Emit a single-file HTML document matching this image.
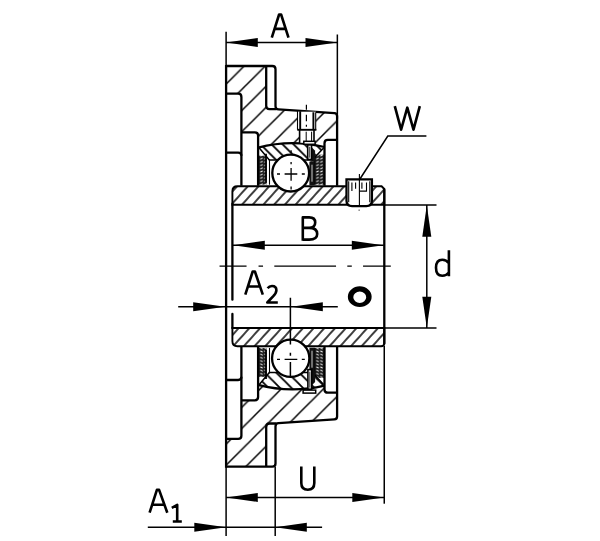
<!DOCTYPE html>
<html><head><meta charset="utf-8">
<style>
html,body{margin:0;padding:0;background:#fff;width:600px;height:541px;overflow:hidden;}
svg{display:block;}
</style></head>
<body>
<svg width="600" height="541" viewBox="0 0 600 541">
<defs>
  <!-- housing hatch "/" : lines x+y = x0 + k*w -->
  <pattern id="hU" patternUnits="userSpaceOnUse" x="14.3" y="0" width="21.1" height="21.1">
    <path d="M0,21.1 L21.1,0 M-10.55,10.55 L10.55,-10.55 M10.55,31.65 L31.65,10.55" stroke="#000" stroke-width="1.5"/>
  </pattern>
  <pattern id="hL" patternUnits="userSpaceOnUse" x="15.6" y="0" width="21.1" height="21.1">
    <path d="M0,21.1 L21.1,0 M-10.55,10.55 L10.55,-10.55 M10.55,31.65 L31.65,10.55" stroke="#000" stroke-width="1.5"/>
  </pattern>
  <!-- inner ring hatch, ~47deg -->
  <pattern id="hR" patternUnits="userSpaceOnUse" x="0" y="6.02" width="7.96" height="7.96" patternTransform="rotate(-48)">
    <path d="M-1,0 H10" stroke="#000" stroke-width="1.5"/>
    <path d="M-1,7.96 H10" stroke="#000" stroke-width="1.5"/>
  </pattern>
  <pattern id="hR2" patternUnits="userSpaceOnUse" x="0" y="6.58" width="7.96" height="7.96" patternTransform="rotate(-48)">
    <path d="M-1,0 H10" stroke="#000" stroke-width="1.5"/>
    <path d="M-1,7.96 H10" stroke="#000" stroke-width="1.5"/>
  </pattern>
  <!-- outer ring "\" : x-y = x0 + k*w -->
  <pattern id="hO" patternUnits="userSpaceOnUse" x="7.15" y="0" width="11" height="11">
    <path d="M0,0 L11,11 M-5.5,5.5 L5.5,16.5 M5.5,-5.5 L16.5,5.5" stroke="#000" stroke-width="1.8"/>
  </pattern>
  <pattern id="hO2" patternUnits="userSpaceOnUse" x="8" y="0" width="11.5" height="11.5">
    <path d="M0,0 L11.5,11.5 M-5.75,5.75 L5.75,17.25 M5.75,-5.75 L17.25,5.75" stroke="#000" stroke-width="1.8"/>
  </pattern>
  <pattern id="seal" patternUnits="userSpaceOnUse" width="4" height="3.2">
    <rect width="4" height="3.2" fill="#1e1e1e"/>
    <path d="M0.5,1.8 L2.8,0.6" stroke="#fff" stroke-width="0.9"/>
  </pattern>
  <path id="housingSec" d="M226.3,65.3 H266.4 V105 Q266.4,108.3 269.7,108.4 L334.6,112.5 Q337.3,112.7 337.3,115.5 V139.2 H324.7 V146.3 Q291,138.3 258.3,147 V134.9 Q258.3,131.6 255,131.6 H241.6 V96.2 Q241.6,93 238.4,93 H226.3 Z"/>
  <path id="ringSec" d="M258.6,147 Q291,138.3 324.5,146.3 L312.5,159.4 H269.5 Z"/>
  <clipPath id="cHU"><use href="#housingSec"/></clipPath>
  <clipPath id="cHL"><use href="#housingSec" transform="translate(0,531.2) scale(1,-1)"/></clipPath>
  <clipPath id="cOU"><use href="#ringSec"/></clipPath>
  <clipPath id="cOL"><use href="#ringSec" transform="translate(0,531.2) scale(1,-1)"/></clipPath>
</defs>
<g transform="translate(-0.2,0.7)">

<!-- hatch fills -->
<rect x="220" y="60" width="125" height="90" fill="url(#hU)" clip-path="url(#cHU)"/>
<rect x="220" y="380" width="125" height="90" fill="url(#hL)" clip-path="url(#cHL)"/>
<rect x="250" y="135" width="80" height="30" fill="url(#hO)" clip-path="url(#cOU)"/>
<rect x="250" y="365" width="80" height="30" fill="url(#hO2)" clip-path="url(#cOL)"/>

<!-- ===== Upper housing outlines (mirrored below) ===== -->
<g id="upper">
  <!-- seals -->
  <rect x="258.3" y="155" width="8.6" height="29" fill="url(#seal)"/>
  <rect x="314.8" y="154" width="9.9" height="30" fill="url(#seal)"/>
  <g fill="none" stroke="#000" stroke-width="2.3" stroke-linejoin="round">
    <path d="M226.3,65.3 H272.5 Q275.7,65.3 275.7,68.5 V105.5 Q275.7,108.5 278.7,108.7 L334.6,112.5 Q337.3,112.7 337.3,115.5 V185"/>
    <path d="M266.4,65.3 V105 Q266.4,108.3 269.7,108.4 H276.5"/>
    <path d="M226.3,93 H238.4 Q241.6,93 241.6,96.2 V185"/>
    <path d="M226.3,151.9 H238.4 Q241.6,151.9 241.6,155.1"/>
    <path d="M241.6,131.6 H255 Q258.3,131.6 258.3,134.9 V185"/>
    <path d="M337.1,139.2 H328 Q324.7,139.2 324.7,142.5 V185"/>
    <path d="M258.3,147 Q291,138.3 324.7,146.3"/>
  </g>
  <g fill="none" stroke="#000" stroke-width="1.5">
    <path d="M259.5,147.3 L269.5,159.4 H280 M323.8,147.3 L312.5,159.4 H302"/>
    <path d="M266.2,153 V182" stroke-width="1.8"/>
    <path d="M269.7,158.5 V184" stroke-width="1.1"/>
    <path d="M314.6,156 V184" stroke-width="1.8"/>
    <path d="M311.3,160 V184" stroke-width="1.1"/>
  </g>
</g>
<use href="#upper" transform="translate(0,531.2) scale(1,-1)"/>

<!-- nipple hole (upper) -->
<g>
  <rect x="297.5" y="111" width="18.6" height="18.2" fill="#fff"/>
  <rect x="300" y="129" width="14" height="13" fill="#fff"/>
  <g stroke="#000" fill="none">
    <path d="M300.4,110.5 V129.1 M313.6,111.5 V129.1" stroke-width="1.9"/>
    <path d="M297.7,110.3 V129.1 M315.9,111.5 V129.1" stroke-width="1.1"/>
    <path d="M297.5,129.1 H316.6" stroke-width="1.9"/>
    <path d="M299.8,129.1 V142.4 M314.2,129.1 V142.4" stroke-width="1.6"/>
    <path d="M306.4,131 V142 M311.8,131 V142" stroke-width="1"/>
    
    <path d="M306.6,104 V109 M306.6,114 V120.5 M306.6,124 V126" stroke-width="1.2"/>
  </g>
</g>
<!-- lower pin in ring -->


<!-- left face -->
<line x1="226.3" y1="64.2" x2="226.3" y2="467" stroke="#000" stroke-width="2.3"/>

<!-- ===== inner ring ===== -->
<g stroke="#000" stroke-width="1.9">
  <path d="M237.6,185.6 H381.8 L384.5,188.3 V204 H232.6 V190.6 Q232.6,185.6 237.6,185.6 Z" fill="url(#hR)"/>
  <path d="M237.6,345.5 H381.3 Q384.5,345.5 384.5,342.3 V327.25 H232.6 V340.5 Q232.6,345.5 237.6,345.5 Z" fill="url(#hR2)"/>
</g>
<g stroke="#000" stroke-width="2.3" stroke-linecap="round">
  <line x1="232.6" y1="203" x2="232.6" y2="299"/>
  <line x1="232.6" y1="313.2" x2="232.6" y2="327.5"/>
  <line x1="384.5" y1="189" x2="384.5" y2="343"/>
</g>
<!-- ring channel / pin details -->
<g>
  <rect x="309.6" y="161" width="5.2" height="23.5" fill="#111"/>
  <path d="M311.8,146.5 L315.3,150 V161 H311.8 Z" fill="#111"/>
  <path d="M311.8,384.7 L315.3,381.2 V370.2 H311.8 Z" fill="#111"/>
  <rect x="309.6" y="347" width="5.2" height="23.5" fill="#111"/>
  <path d="M312.2,164 V181 M312.2,350 V367" stroke="#fff" stroke-width="0.8"/>
  <rect x="304" y="140.6" width="11.3" height="3" fill="#fff" stroke="#000" stroke-width="1.5"/>
  <rect x="307.9" y="144.2" width="3.85" height="14.6" fill="#fff" stroke="#000" stroke-width="1.6"/>
  <rect x="303.3" y="389.4" width="12.6" height="3" fill="#fff" stroke="#000" stroke-width="1.5"/>
  <rect x="308.1" y="368.9" width="3.75" height="19.6" fill="#fff" stroke="#000" stroke-width="1.6"/>
  <path d="M309.9,146 V157 M310,371 V387" stroke="#000" stroke-width="0.8"/>
</g>
<!-- balls -->
<g fill="#fff" stroke="#000" stroke-width="2.3">
  <circle cx="290.9" cy="172.4" r="18.4"/>
  <circle cx="290.9" cy="357.6" r="18.65"/>
</g>
<g stroke="#000" stroke-width="1.3">
  <path d="M284.8,173.3 H297.5 M291.3,167.3 V180 M277.2,173.3 H280.2 M302,173.3 H305 M291.3,161.3 V163.6 M291.3,185.7 V188.7 M291.3,149.5 V152.3"/>
  <path d="M284.8,358.7 H297.5 M277.2,358.7 H280.2 M302,358.7 H305"/>
</g>

<!-- set screw -->
<g stroke="#000" fill="#fff">
  <path d="M346.7,178.7 H372.1 V200 Q372.1,205.2 366.5,205.4 H352.3 Q346.7,205.2 346.7,200 Z" stroke-width="2.3"/>
  <g fill="none" stroke-width="1.1">
    <path d="M348.9,180.5 V201.5 M370,180.5 V201.5"/>
    <path d="M352.1,181.7 V190.4 M355.8,181.7 V188 M362.1,181.7 V188 M366.7,181.7 V190.4 H359.6"/>
    <path d="M359.6,173.3 V204.5"/>
    <circle cx="359.3" cy="209.4" r="0.6" fill="#000" stroke="none"/>
  </g>
</g>
<!-- ring hole -->
<path d="M348.05,296 A11.9,10.35 0 1,0 371.85,296 A11.9,10.35 0 1,0 348.05,296 Z M353.5,296.5 A6.45,5.7 0 1,1 366.4,296.5 A6.45,5.7 0 1,1 353.5,296.5 Z" fill="#000" fill-rule="evenodd"/>

<!-- ===== dimensions ===== -->
<g stroke="#000" stroke-width="1.5" fill="none">
  <line x1="226.3" y1="31" x2="226.3" y2="65"/>
  <line x1="337.55" y1="33.8" x2="337.55" y2="118"/>
  <line x1="226.3" y1="41.8" x2="337.55" y2="41.8"/>
  <polyline points="426.6,135.35 388,135.35 359.8,178.8"/>
  <line x1="385" y1="204.2" x2="436.7" y2="204.2"/>
  <line x1="385" y1="327.3" x2="436.7" y2="327.3"/>
  <line x1="427" y1="204.2" x2="427" y2="327.3"/>
  <line x1="233" y1="244.6" x2="384" y2="244.6"/>
  <line x1="178.4" y1="306.1" x2="338" y2="306.1"/>
  <path d="M290.6,297 V343.8 M290.6,352 V355 M290.6,361.2 V376"/>
  <line x1="384.45" y1="345" x2="384.45" y2="503"/>
  <line x1="226.3" y1="496.7" x2="384.3" y2="496.7"/>
  <line x1="226.3" y1="466" x2="226.3" y2="535.3"/>
  <line x1="275.4" y1="466" x2="275.4" y2="535.3"/>
  <line x1="148" y1="526.5" x2="322.3" y2="526.5"/>
</g>
<path d="M219.75,265.5 H246.75 M258.75,265.5 H263.25 M274.5,265.5 H336.25 M347.5,265.5 H352 M363.25,265.5 H391" stroke="#000" stroke-width="1.3"/>

<g fill="#000">
  <path d="M226.3,41.8 L258,37.3 L258,46.3 Z"/>
  <path d="M337.55,41.8 L305.7,37.3 L305.7,46.3 Z"/>
  <path d="M427,204.5 L422.5,236 L431.5,236 Z"/>
  <path d="M427,327 L422.5,296 L431.5,296 Z"/>
  <path d="M233.5,244.6 L265,240.1 L265,249.1 Z"/>
  <path d="M383.5,244.6 L352,240.1 L352,249.1 Z"/>
  <path d="M225.5,306.1 L193.4,301.6 L193.4,310.6 Z"/>
  <path d="M291.5,306.1 L323,301.6 L323,310.6 Z"/>
  <path d="M226.3,496.7 L258,492.2 L258,501.2 Z"/>
  <path d="M384.3,496.7 L352.5,492.2 L352.5,501.2 Z"/>
  <path d="M226.3,526.5 L194.5,522 L194.5,531 Z"/>
  <path d="M275.4,526.5 L307,522 L307,531 Z"/>
</g>

<!-- letters -->
<g fill="none" stroke="#000" stroke-width="2.6" stroke-linejoin="round" stroke-linecap="butt" transform="translate(0,-0.5)">
  <!-- A (top) -->
  <path d="M272,37.5 L279.3,14.3 H281.3 L288.7,37.5 M274.6,28.7 H286.1"/>
  <!-- W -->
  <path d="M395,106 L401.3,129.5 L407.5,107.5 L413.7,129.5 L420,106"/>
  <!-- B -->
  <path d="M303,240.5 V217.2 H309.3 Q315.4,217.2 315.4,222.3 Q315.4,227.7 309.3,227.7 H303 M309.3,227.7 Q317.4,227.7 317.4,233.8 Q317.4,239.4 309.3,239.4 H303"/>
  <!-- d -->
  <path d="M449.1,250 V276 M449.1,263 Q446.5,259.6 442.5,259.6 Q436.2,259.6 436.2,267.6 Q436.2,275.6 442.5,275.6 Q446.5,275.6 449.1,272.3"/>
  <!-- A2 -->
  <path d="M245.5,294.4 L252.9,271.3 H255.1 L263,294.4 M248.1,286.3 H260.2"/>
  <path d="M267.8,288 Q269.5,285.8 272.2,285.8 Q276.6,285.8 276.6,290 Q276.6,292.5 273.5,296 L267.5,302.3 H278"/>
  <!-- A1 -->
  <path d="M149.8,512.5 L157.1,489.7 H159.3 L167.5,512.5 M152.4,504.6 H164.6"/>
  <path d="M172,507.6 L177.4,504.7 V521.6 M173,521.3 H182"/>
  <!-- U -->
  <path d="M301.5,466.3 V482.8 Q301.5,489.5 308,489.5 Q314.5,489.5 314.5,482.8 V466.3"/>
</g>
</g>
</svg>
</body></html>
